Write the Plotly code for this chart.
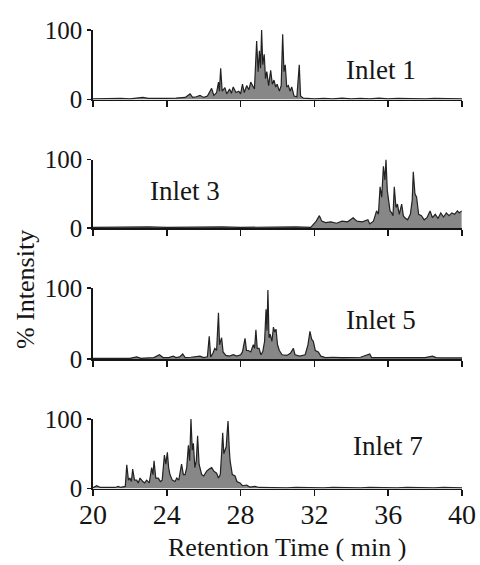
import plotly.graph_objects as go

# ---------------- data ----------------
tick_vals_x = [20, 24, 28, 32, 36, 40]
tick_vals_y = [0, 100]
inlet_names = ["Inlet 1", "Inlet 3", "Inlet 5", "Inlet 7"]

inlet1_t = [20.0, 20.5, 21.0, 21.5, 22.0, 22.4, 22.7, 23.0, 23.5, 24.0, 24.5, 25.0, 25.26, 25.4, 25.6,
            25.8, 26.0, 26.2, 26.43, 26.55, 26.7, 26.8, 26.85, 26.92, 27.0, 27.15, 27.25, 27.4, 27.5,
            27.6, 27.75, 27.9, 28.0, 28.1, 28.2, 28.33, 28.45, 28.55, 28.65, 28.75, 28.87, 28.95, 29.02,
            29.08, 29.14, 29.2, 29.28, 29.35, 29.42, 29.52, 29.63, 29.72, 29.81, 29.9, 29.98, 30.1, 30.2,
            30.28, 30.35, 30.42, 30.5, 30.59, 30.68, 30.77, 30.9, 31.05, 31.18, 31.25, 31.4, 31.7, 32.0,
            32.5, 33.0, 33.5, 34.0, 34.5, 35.0, 35.5, 36.0, 36.5, 37.0, 37.5, 38.0, 38.5, 39.0, 39.5, 40.0]
inlet1_y = [1, 1.5, 1, 1.5, 1, 2, 3, 1.5, 1, 1.5, 2, 3, 8, 3, 4,
            6, 3, 5, 16, 6, 10, 25, 12, 45, 12, 17, 8, 15, 9,
            18, 10, 12, 8, 22, 10, 20, 14, 25, 20, 15, 84, 40, 70,
            45, 100, 50, 65, 30, 40, 20, 42, 22, 28, 18, 22, 12, 20,
            94, 40, 50, 18, 20, 12, 18, 5, 4, 50, 5, 2, 1.5, 1,
            1.5, 1, 2, 1, 1.5, 1, 2, 1, 1.5, 1, 1.5, 1, 1.5, 1, 1.5, 1]

inlet3_t = [20.0, 21.0, 22.0, 23.0, 24.0, 25.0, 26.0, 27.0, 28.0, 29.0, 30.0, 31.0, 31.8, 31.95, 32.1,
            32.27, 32.4, 32.6, 32.9, 33.2, 33.5, 33.8, 34.1, 34.3, 34.6, 34.9, 35.0, 35.2, 35.37, 35.47,
            35.56, 35.65, 35.74, 35.82, 35.88, 35.95, 36.02, 36.1, 36.19, 36.26, 36.33, 36.42, 36.5,
            36.6, 36.73, 36.82, 36.9, 37.05, 37.2, 37.3, 37.36, 37.45, 37.54, 37.65, 37.8, 37.95, 38.1,
            38.27, 38.4, 38.55, 38.7, 38.85, 39.0, 39.15, 39.3, 39.45, 39.6, 39.75, 39.85, 39.98]
inlet3_y = [1, 1.5, 1, 1.5, 1, 1.5, 1, 1.5, 1, 1.5, 1, 1.5, 1, 6, 10,
            18, 10, 8, 9, 7, 10, 9, 15, 10, 9, 12, 6, 10, 25, 20,
            60, 45, 90, 70, 100, 55, 40, 25, 22, 18, 60, 30, 35,
            20, 35, 18, 15, 12, 20, 40, 82, 50, 45, 20, 18, 12, 15,
            25, 15, 20, 14, 22, 16, 22, 18, 22, 20, 25, 22, 25]

inlet5_t = [20.0, 20.5, 21.0, 21.5, 21.8, 22.0, 22.37, 22.6, 23.0, 23.3, 23.6, 23.8, 24.1, 24.35, 24.5,
            24.7, 24.86, 25.0, 25.3, 25.6, 25.8, 26.0, 26.2, 26.3, 26.38, 26.5, 26.6, 26.7, 26.8, 26.86,
            26.97, 27.05, 27.2, 27.4, 27.6, 27.8, 28.0, 28.1, 28.24, 28.32, 28.42, 28.55, 28.69, 28.76,
            28.83, 28.9, 29.0, 29.1, 29.2, 29.3, 29.38, 29.43, 29.48, 29.54, 29.6, 29.7, 29.78, 29.85,
            29.92, 30.0, 30.1, 30.25, 30.5, 30.7, 30.86, 30.95, 31.2, 31.5, 31.65, 31.76, 31.85, 31.94,
            32.05, 32.21, 32.35, 32.6, 33.0, 33.5, 34.0, 34.5, 35.0, 35.1, 35.5, 36.0, 36.5, 37.0, 37.5,
            38.0, 38.4, 38.6, 39.0, 39.5, 40.0]
inlet5_y = [1, 1, 1, 1, 1.5, 1, 3, 1, 1.5, 2, 6, 2, 2, 4, 2,
            3, 7, 2, 2.5, 3, 4, 2, 3, 32, 3, 8, 15, 12, 65, 20,
            30, 10, 5, 4, 6, 4, 6, 10, 29, 12, 12, 10, 20, 15,
            41, 15, 15, 6, 10, 25, 70, 40, 97, 30, 35, 25, 45, 38,
            42, 20, 12, 6, 5, 8, 15, 6, 4, 6, 20, 39, 28, 25,
            12, 10, 4, 2, 2.5, 2, 2, 2.5, 7, 2, 2, 2, 1.5, 2, 2,
            2, 4, 2, 1.5, 2, 1.5]

inlet7_t = [20.0, 20.2, 20.4, 20.8, 21.2, 21.37, 21.5, 21.75, 21.83, 21.92, 22.0, 22.08, 22.15, 22.25,
            22.37, 22.45, 22.55, 22.7, 22.8, 22.91, 23.05, 23.18, 23.25, 23.31, 23.4, 23.54, 23.65,
            23.75, 23.87, 23.95, 24.03, 24.1, 24.17, 24.3, 24.45, 24.54, 24.65, 24.8, 24.9, 24.99,
            25.08, 25.17, 25.24, 25.31, 25.38, 25.44, 25.52, 25.6, 25.67, 25.75, 25.89, 26.0, 26.16,
            26.3, 26.43, 26.55, 26.7, 26.8, 26.9, 26.97, 27.03, 27.09, 27.15, 27.22, 27.27, 27.32,
            27.38, 27.43, 27.55, 27.7, 27.8, 27.97, 28.1, 28.33, 28.5, 28.78, 29.0, 29.5, 30.0, 30.5,
            31.0, 31.5, 32.0, 32.5, 33.0, 33.5, 34.0, 34.5, 35.0, 35.5, 36.0, 36.5, 37.0, 37.5, 38.0,
            38.5, 39.0, 39.5, 40.0]
inlet7_y = [1, 4, 1.5, 1.5, 1.5, 3, 1.5, 3, 34, 12, 15, 10, 28, 12,
            12, 8, 15, 10, 8, 12, 8, 30, 20, 40, 15, 15, 10,
            12, 48, 35, 52, 30, 20, 12, 10, 15, 12, 35, 20, 20,
            30, 62, 40, 100, 55, 65, 30, 40, 76, 35, 20, 18, 25,
            28, 30, 25, 22, 15, 20, 50, 80, 50, 55, 60, 80, 97,
            60, 40, 20, 18, 10, 8, 4, 5, 2, 3, 1.5, 1, 1.5, 1,
            1.5, 1, 1.5, 1, 1.5, 1, 1.5, 1, 1.5, 1, 1.5, 1, 1.5, 1, 1.5,
            1, 1.5, 1, 1]

series_t = [inlet1_t, inlet3_t, inlet5_t, inlet7_t]
series_y = [inlet1_y, inlet3_y, inlet5_y, inlet7_y]

# ---------------- layout geometry (page pixels) ----------------
W, H = 480, 565
x0_px, x1_px = 93, 462
panels_px = [(30, 99.5), (159.5, 228), (288, 359), (419, 488.5)]  # y of 100, y of 0
label_pos = [(381, 70), (185, 191), (381, 320), (388, 446)]


def px_x(x):
    return x / W


def px_y(y):
    return 1 - y / H


FONT = "Liberation Serif"
INK = "#151515"

fig = go.Figure()
layout = dict(
    width=W, height=H,
    margin=dict(l=0, r=0, t=0, b=0),
    paper_bgcolor="white", plot_bgcolor="white",
    showlegend=False,
    font=dict(family=FONT, color=INK),
)

for i, (t, y) in enumerate(zip(series_t, series_y)):
    n = i + 1
    xa = "x" if n == 1 else f"x{n}"
    ya = "y" if n == 1 else f"y{n}"
    fig.add_trace(go.Scatter(
        x=t, y=y, xaxis=xa, yaxis=ya, mode="lines",
        line=dict(color="#222222", width=1.2),
        fill="tozeroy", fillcolor="rgba(105,105,105,0.8)",
        hoverinfo="skip",
    ))
    top, bot = panels_px[i]
    layout[f"xaxis{'' if n == 1 else n}"] = dict(
        domain=[px_x(x0_px), px_x(x1_px)], range=[20, 40], anchor=ya,
        tickvals=tick_vals_x, ticks="outside", ticklen=6, tickwidth=1.5,
        tickcolor=INK, showline=True, linewidth=1.8, linecolor=INK,
        showgrid=False, zeroline=False, showticklabels=(n == 4),
        ticklabelstandoff=-6, ticklabeloverflow="allow",
        tickfont=dict(family=FONT, size=28, color=INK), automargin=False,
    )
    layout[f"yaxis{'' if n == 1 else n}"] = dict(
        domain=[px_y(bot), px_y(top)], range=[0, 100], anchor=xa,
        tickvals=tick_vals_y, ticks="outside", ticklen=4, tickwidth=1.5,
        tickcolor=INK, showline=True, linewidth=1.8, linecolor=INK,
        showgrid=False, zeroline=False,
        tickfont=dict(family=FONT, size=25, color=INK), automargin=False,
    )

annotations = []
for name, (lx, ly) in zip(inlet_names, label_pos):
    annotations.append(dict(
        text=name, x=px_x(lx), y=px_y(ly), xref="paper", yref="paper",
        xanchor="center", yanchor="middle", showarrow=False,
        font=dict(family=FONT, size=27, color=INK),
    ))
annotations.append(dict(
    text="Retention Time ( min )", x=px_x(287), y=px_y(547), xref="paper", yref="paper",
    xanchor="center", yanchor="middle", showarrow=False,
    font=dict(family=FONT, size=26, color=INK),
))
annotations.append(dict(
    text="% Intensity", x=px_x(25), y=px_y(290), xref="paper", yref="paper",
    xanchor="center", yanchor="middle", showarrow=False, textangle=-90,
    font=dict(family=FONT, size=26, color=INK),
))
layout["annotations"] = annotations

fig.update_layout(**layout)
fig.write_html(
    "out.html",
    config={"displayModeBar": False, "staticPlot": True},
    post_script="document.body.style.margin='0';document.body.style.overflow='hidden';",
)
